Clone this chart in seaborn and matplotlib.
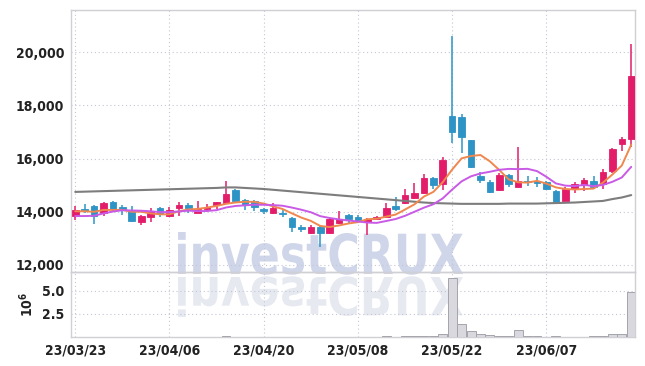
import matplotlib
matplotlib.use('Agg')
import matplotlib.pyplot as plt
import numpy as np
import pandas as pd
import seaborn as sns
from matplotlib.textpath import TextPath
from matplotlib.font_manager import FontProperties
from matplotlib.patches import PathPatch
from matplotlib.transforms import Affine2D, IdentityTransform
from matplotlib.ticker import FuncFormatter

# daily OHLC (60 trading days)
opens = [13850, 14100, 14210, 13960, 14360, 14170, 14060, 13600, 13810, 14120,
         13830, 14150, 14260, 13960, 14100, 14240, 14340, 14810, 14440, 14390,
         14090, 13940, 13960, 13750, 13410, 13200, 13410, 13180, 13560, 13870,
         13810, 13620, 13710, 13810, 14210, 14310, 14500, 14690, 15250, 15040,
         17600, 17550, 16700, 15340, 15100, 14810, 15380, 14940, 15160, 15150,
         15130, 14780, 14410, 14850, 15000, 15150, 15040, 15540, 16540, 16730]
highs = [14220, 14290, 14250, 14350, 14380, 14250, 14210, 13870, 14120, 14160,
         14160, 14370, 14340, 14410, 14290, 14360, 15160, 14840, 14470, 14420,
         14150, 14340, 14060, 13810, 13500, 13500, 13450, 13770, 14030, 13910,
         13870, 13760, 13830, 14340, 14540, 14840, 15070, 15420, 15300, 16070,
         20620, 17680, 16700, 15500, 15190, 15440, 15420, 16420, 15340, 15320,
         15160, 14810, 14940, 15130, 15250, 15340, 15600, 16390, 16820, 20320]
lows = [13680, 13940, 13530, 13830, 14030, 13870, 13620, 13500, 13620, 13810,
        13810, 13830, 13960, 13940, 14000, 14090, 14310, 14360, 14060, 14030,
        13910, 13910, 13810, 13240, 13240, 13160, 12650, 13160, 13530, 13560,
        13620, 13120, 13680, 13790, 14030, 14290, 14460, 14660, 14840, 14810,
        16600, 16220, 15630, 15090, 14710, 14790, 14920, 14920, 14970, 14920,
        14810, 14310, 14390, 14690, 14790, 14880, 14840, 15440, 16300, 16450]
closes = [14060, 14010, 13830, 14320, 14090, 14060, 13660, 13830, 14010, 13910,
          14060, 14260, 14150, 14110, 14170, 14360, 14660, 14410, 14240, 14160,
          14030, 14140, 13910, 13410, 13360, 13420, 13180, 13710, 13710, 13730,
          13680, 13730, 13790, 14120, 14110, 14630, 14710, 15250, 15000, 15950,
          17010, 16820, 15690, 15190, 14750, 15380, 15040, 15160, 15120, 15090,
          14850, 14340, 14850, 15030, 15180, 14920, 15480, 16360, 16740, 19110]
volumes = [0.04, 0.04, 0.05, 0.04, 0.04, 0.03, 0.05, 0.04, 0.04, 0.03,
           0.04, 0.04, 0.03, 0.03, 0.03, 0.04, 0.06, 0.05, 0.04, 0.03,
           0.03, 0.03, 0.03, 0.04, 0.03, 0.03, 0.05, 0.05, 0.04, 0.03,
           0.03, 0.04, 0.03, 0.06, 0.05, 0.07, 0.08, 0.1, 0.12, 0.29,
           6.35, 1.38, 0.62, 0.37, 0.18, 0.15, 0.1, 0.73, 0.08, 0.06,
           0.05, 0.06, 0.05, 0.05, 0.05, 0.06, 0.07, 0.35, 0.28, 4.83]  # millions

# moving averages: first values of the window come from before the visible range
ma5_head = [14010, 14010, 13990, 14060]
ma10_head = [13830, 13830, 13840, 13930, 14000, 14050, 14040, 14030, 14010]
ma_long = [14740, 14750, 14760, 14770, 14780, 14790, 14800, 14810, 14820, 14830,
           14840, 14850, 14860, 14870, 14880, 14890, 14910, 14910, 14890, 14870,
           14850, 14820, 14790, 14760, 14730, 14700, 14670, 14640, 14610, 14580,
           14550, 14520, 14490, 14460, 14430, 14400, 14370, 14340, 14320, 14310,
           14300, 14290, 14290, 14290, 14290, 14290, 14300, 14300, 14300, 14300,
           14310, 14320, 14330, 14340, 14360, 14380, 14400, 14470, 14530, 14620]

tick_labels = ['23/03/23', '23/04/06', '23/04/20', '23/05/08', '23/05/22', '23/06/07']

RED = '#e31c6a'
BLUE = '#2e94c6'

df = pd.DataFrame({'open': opens, 'high': highs, 'low': lows, 'close': closes,
                   'volume': np.array(volumes) * 1e6, 'ma_long': ma_long})
df['day'] = np.arange(len(df))
ma5 = df['close'].rolling(5).mean()
ma5.iloc[:4] = ma5_head
ma10 = df['close'].rolling(10).mean()
ma10.iloc[:9] = ma10_head
df['ma5'] = ma5
df['ma10'] = ma10

sns.set_theme(style='white')
plt.rcParams['font.family'] = ['DejaVu Sans']
plt.rcParams['font.stretch'] = 'condensed'
plt.rcParams['font.weight'] = 'bold'

fig = plt.figure(figsize=(6.45, 3.66), dpi=100, facecolor='white')
ax = fig.add_axes([71/645, 94/366, 564/645, 262/366], facecolor='none')
axv = fig.add_axes([71/645, 29/366, 564/645, 65/366], facecolor='none', sharex=ax)

# watermark with reflection
tp = TextPath((0, 0), 'investCRUX', size=1, prop=FontProperties(family='DejaVu Sans', weight='bold'))
bb = tp.get_extents()
sx = (463 - 178) / bb.width
sy = (133 - 91) / bb.y1
wm = Affine2D().translate(-bb.x0, 0).scale(sx, sy).translate(178, 92)
wm_ref = Affine2D().translate(-bb.x0, 0).scale(sx, -sy * 0.95).translate(178, 89)
fig.add_artist(PathPatch(wm.transform_path(tp), transform=IdentityTransform(),
                         facecolor='#d0d6ea', edgecolor='none', zorder=-2))
fig.add_artist(PathPatch(wm_ref.transform_path(tp), transform=IdentityTransform(),
                         facecolor='#e7e9f1', edgecolor='none', zorder=-2))

# candles
up = df['close'] >= df['open']
colors = np.where(up, RED, BLUE)
ax.vlines(df['day'], df['low'], df['high'], colors=colors, lw=1.1, zorder=3)
body_bottom = df[['open', 'close']].min(axis=1)
body_height = (df['close'] - df['open']).abs().clip(lower=25)
ax.bar(df['day'], body_height, bottom=body_bottom, width=0.7, color=colors,
       edgecolor=colors, lw=0.6, zorder=4)

sns.lineplot(data=df, x='day', y='ma_long', ax=ax, color='#7d7d7d', lw=1.5, zorder=5)
sns.lineplot(data=df, x='day', y='ma5', ax=ax, color='#f0874e', lw=1.4, zorder=5)
sns.lineplot(data=df, x='day', y='ma10', ax=ax, color='#c95ae6', lw=1.4, zorder=5)

ax.set_xlim(-0.45, 59.4)
ax.set_ylim(11720, 21600)
ax.set_yticks([12000, 14000, 16000, 18000, 20000])
ax.yaxis.set_major_formatter(FuncFormatter(lambda v, p: f'{v:,.0f}'))
ax.set_xlabel('')
ax.set_ylabel('')

# volume
axv.bar(df['day'], df['volume'], width=0.95, color='#d8d8de', edgecolor='#a4a4ac', lw=0.7, zorder=3)
axv.set_ylim(0, 7.05e6)
axv.set_yticks([2.5e6, 5e6])
axv.yaxis.set_major_formatter(FuncFormatter(lambda v, p: f'{v/1e6:.1f}'))
axv.set_ylabel('$10^6$', fontsize=10, labelpad=4, color='#222222')
axv.set_xticks(range(0, 60, 10))
axv.set_xticklabels(tick_labels)
axv.set_xlabel('')

for a in (ax, axv):
    a.grid(True, ls=(0, (1, 2.5)), color='#c4c6d6', lw=0.8)
    a.set_axisbelow(True)
    for s in a.spines.values():
        s.set_color('#cfcfd4')
        s.set_linewidth(1)
    a.tick_params(length=0, labelsize=10, labelcolor='#222222', pad=5)
ax.tick_params(labelbottom=False)

fig.savefig('out.png', dpi=100, facecolor='white')
